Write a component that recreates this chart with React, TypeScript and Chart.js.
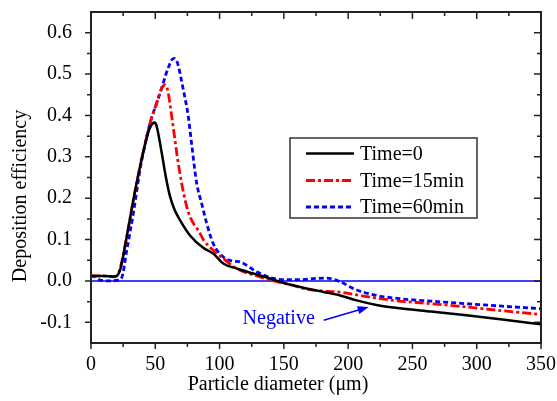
import React, { useEffect, useRef } from 'react';
import { Chart, registerables } from 'chart.js';

Chart.register(...registerables);

// ---- data ----
const seriesLabels = ['Time=0', 'Time=15min', 'Time=60min'];

const diam0 = [0, 10, 18.7, 22.6, 27.8, 32.9, 38.1, 42, 45.5, 48, 49.5, 51, 53, 55, 58, 61.4, 65, 69.2, 77, 87.3, 95.1, 102.9, 113.3, 126.2, 139.2, 150, 162.6, 180.7, 193.7, 206.6, 222, 240.3, 265, 292, 320, 350];
const eff0 = [0.012, 0.012, 0.011, 0.026, 0.107, 0.195, 0.276, 0.33, 0.368, 0.381, 0.383, 0.375, 0.345, 0.31, 0.255, 0.205, 0.172, 0.147, 0.11, 0.08, 0.066, 0.042, 0.03, 0.018, 0.006, -0.005, -0.0145, -0.0266, -0.035, -0.047, -0.058, -0.066, -0.074, -0.083, -0.093, -0.105];

const diam15 = [0, 10, 17, 20, 22.6, 27.8, 32.9, 38.1, 42, 45.9, 51.1, 55, 57.6, 59, 60.1, 62.8, 65.3, 67.1, 70.5, 74, 77, 84.8, 87.3, 95.1, 102.9, 113.3, 131.4, 144.4, 152, 170, 185, 196, 209, 235, 265, 292, 320, 350];
const eff15 = [0.012, 0.012, 0.01, 0.012, 0.03, 0.107, 0.195, 0.276, 0.33, 0.381, 0.43, 0.466, 0.474, 0.468, 0.454, 0.397, 0.341, 0.3, 0.236, 0.185, 0.155, 0.115, 0.1, 0.074, 0.054, 0.03, 0.01, -0.002, -0.007, -0.021, -0.025, -0.028, -0.035, -0.047, -0.055, -0.063, -0.072, -0.081];

const diam60 = [0, 3, 7, 15, 21, 23.9, 27.8, 32.9, 38.1, 40.7, 45.9, 51.1, 55, 58, 60.1, 62.5, 64.6, 66.5, 67.9, 71.8, 75.7, 78.3, 82.2, 86.1, 90, 95.1, 102.9, 110.7, 115.9, 128.9, 141.8, 151, 162.6, 175, 183.3, 193.7, 206.6, 222, 240.3, 265, 292, 320, 350];
const eff60 = [0.012, 0.01, 0.002, 0.0, 0.002, 0.008, 0.074, 0.163, 0.268, 0.31, 0.381, 0.43, 0.466, 0.497, 0.515, 0.533, 0.538, 0.533, 0.52, 0.462, 0.397, 0.33, 0.236, 0.187, 0.139, 0.09, 0.058, 0.048, 0.046, 0.022, 0.006, 0.003, 0.003, 0.006, 0.007, -0.002, -0.022, -0.035, -0.043, -0.049, -0.055, -0.061, -0.067];

const seriesColors = ['#000000', '#ff0000', '#0000ff'];
const xTitle = 'Particle diameter (\u03bcm)';
const yTitle = 'Deposition efficiency';
const noteText = 'Negative';
// annotation anchor points in data units
const notePos = { x: 146, y: -0.091 };
const arrowFrom = { x: 181, y: -0.095 };
const arrowTo = { x: 216, y: -0.063 };

const FONT = '"Liberation Serif", "Times New Roman", serif';

const toPts = (xs: number[], ys: number[]) => xs.map((x, i) => ({ x, y: ys[i] }));

const zeroPad = (s: any) => {
  s.paddingLeft = 0;
  s.paddingRight = 0;
  s.paddingTop = 0;
  s.paddingBottom = 0;
};

const decorPlugin = {
  id: 'decor',
  beforeDatasetsDraw(chart: any) {
    const { ctx, chartArea: a, scales } = chart;
    const y0 = scales.y.getPixelForValue(0);
    ctx.save();
    ctx.strokeStyle = '#0000ff';
    ctx.lineWidth = 1.5;
    ctx.beginPath();
    ctx.moveTo(a.left, y0);
    ctx.lineTo(a.right, y0);
    ctx.stroke();
    ctx.restore();
  },
  afterDatasetsDraw(chart: any) {
    const { ctx, chartArea: a, scales } = chart;
    const xs = scales.x;
    const ys = scales.y;
    ctx.save();
    // frame
    ctx.strokeStyle = '#222';
    ctx.lineWidth = 2;
    ctx.strokeRect(a.left, a.top, a.right - a.left, a.bottom - a.top);
    // ticks
    ctx.lineWidth = 1.5;
    ctx.beginPath();
    xs.ticks.forEach((t: any) => {
      const v = t.value;
      const major = Math.round(v) % 50 === 0;
      const px = xs.getPixelForValue(v);
      ctx.moveTo(px, a.bottom);
      ctx.lineTo(px, a.bottom + (major ? 6 : 4));
      if (v > xs.min && v < xs.max) {
        ctx.moveTo(px, a.top);
        ctx.lineTo(px, a.top + (major ? 7 : 4));
      }
    });
    ys.ticks.forEach((t: any) => {
      const r = Math.round(t.value * 100);
      if (t.value <= ys.min + 1e-9 || t.value >= ys.max - 1e-9) return;
      const major = r % 10 === 0;
      const py = ys.getPixelForValue(t.value);
      ctx.moveTo(a.left - (major ? 6 : 4), py);
      ctx.lineTo(a.left, py);
      ctx.moveTo(a.right, py);
      ctx.lineTo(a.right - (major ? 7 : 4), py);
    });
    ctx.stroke();

    // axis titles
    ctx.fillStyle = '#000';
    ctx.font = `20px ${FONT}`;
    ctx.textAlign = 'center';
    ctx.textBaseline = 'middle';
    ctx.fillText(xTitle, 278, 385);
    ctx.save();
    ctx.translate(21, 196);
    ctx.rotate(-Math.PI / 2);
    ctx.fillText(yTitle, 0, 0);
    ctx.restore();

    // annotation
    ctx.fillStyle = '#0000ff';
    ctx.strokeStyle = '#0000ff';
    ctx.fillText(noteText, xs.getPixelForValue(notePos.x), ys.getPixelForValue(notePos.y));
    const x1 = xs.getPixelForValue(arrowFrom.x);
    const y1 = ys.getPixelForValue(arrowFrom.y);
    const x2 = xs.getPixelForValue(arrowTo.x);
    const y2 = ys.getPixelForValue(arrowTo.y);
    const ang = Math.atan2(y2 - y1, x2 - x1);
    const hl = 11;
    const hw = 4;
    ctx.lineWidth = 1.5;
    ctx.beginPath();
    ctx.moveTo(x1, y1);
    ctx.lineTo(x2 - Math.cos(ang) * hl * 0.8, y2 - Math.sin(ang) * hl * 0.8);
    ctx.stroke();
    ctx.beginPath();
    ctx.moveTo(x2, y2);
    ctx.lineTo(x2 - Math.cos(ang) * hl - Math.sin(ang) * hw, y2 - Math.sin(ang) * hl + Math.cos(ang) * hw);
    ctx.lineTo(x2 - Math.cos(ang) * hl + Math.sin(ang) * hw, y2 - Math.sin(ang) * hl - Math.cos(ang) * hw);
    ctx.closePath();
    ctx.fill();

    // legend
    const bx = 290, by = 138, bw = 187, bh = 80;
    ctx.fillStyle = '#fff';
    ctx.fillRect(bx, by, bw, bh);
    ctx.strokeStyle = '#333';
    ctx.lineWidth = 1.5;
    ctx.strokeRect(bx, by, bw, bh);
    const rows = [153.5, 180.5, 207];
    chart.data.datasets.forEach((ds: any, i: number) => {
      ctx.strokeStyle = ds.borderColor;
      ctx.lineWidth = ds.borderWidth;
      ctx.setLineDash(ds.borderDash || []);
      ctx.beginPath();
      ctx.moveTo(306, rows[i]);
      ctx.lineTo(354, rows[i]);
      ctx.stroke();
      ctx.setLineDash([]);
      ctx.fillStyle = '#000';
      ctx.textAlign = 'left';
      ctx.textBaseline = 'middle';
      ctx.font = `20px ${FONT}`;
      ctx.fillText(ds.label, 360, rows[i] + 1);
    });
    ctx.restore();
  },
};

export default function App() {
  const ref = useRef<HTMLCanvasElement>(null);
  useEffect(() => {
    const chart = new Chart(ref.current as HTMLCanvasElement, {
      type: 'line',
      data: {
        datasets: [
          {
            label: seriesLabels[0],
            data: toPts(diam0, eff0),
            borderColor: seriesColors[0],
            borderWidth: 2.5,
            borderDash: [],
            pointRadius: 0,
            cubicInterpolationMode: 'monotone',
            fill: false,
          },
          {
            label: seriesLabels[1],
            data: toPts(diam15, eff15),
            borderColor: seriesColors[1],
            borderWidth: 2.8,
            borderDash: [9, 3, 3, 3],
            pointRadius: 0,
            cubicInterpolationMode: 'monotone',
            fill: false,
          },
          {
            label: seriesLabels[2],
            data: toPts(diam60, eff60),
            borderColor: seriesColors[2],
            borderWidth: 2.8,
            borderDash: [5, 3],
            pointRadius: 0,
            cubicInterpolationMode: 'monotone',
            fill: false,
          },
        ],
      } as any,
      options: {
        responsive: false,
        devicePixelRatio: 1,
        animation: false,
        layout: { padding: { left: 0, right: 16, top: 12, bottom: 0 } },
        plugins: { legend: { display: false }, tooltip: { enabled: false } },
        scales: {
          x: {
            type: 'linear',
            min: 0,
            max: 350,
            grid: { display: false },
            border: { display: false },
            ticks: {
              stepSize: 25,
              autoSkip: false,
              maxRotation: 0,
              padding: 2,
              color: '#000',
              font: { family: FONT, size: 20 },
              callback: (v: any) => (Math.round(v) % 50 === 0 ? String(Math.round(v)) : ''),
            },
            afterFit: (s: any) => {
              s.height = 58;
              zeroPad(s);
            },
          },
          y: {
            type: 'linear',
            min: -0.15,
            max: 0.65,
            grid: { display: false },
            border: { display: false },
            ticks: {
              stepSize: 0.05,
              autoSkip: false,
              padding: 11,
              color: '#000',
              font: { family: FONT, size: 20 },
              callback: (v: any) => {
                const r = Math.round(v * 100);
                if (r === -15 || r === 65) return '';
                return r % 10 === 0 ? (r / 100).toFixed(1) : '';
              },
            },
            afterFit: (s: any) => {
              s.width = 91;
              zeroPad(s);
            },
          },
        },
      } as any,
      plugins: [decorPlugin],
    });
    return () => chart.destroy();
  }, []);
  return (
    <div style={{ position: 'fixed', left: 0, top: 0, width: 557, height: 401, background: '#fff' }}>
      <canvas ref={ref} width={557} height={401} style={{ width: 557, height: 401, display: 'block' }} />
    </div>
  );
}
